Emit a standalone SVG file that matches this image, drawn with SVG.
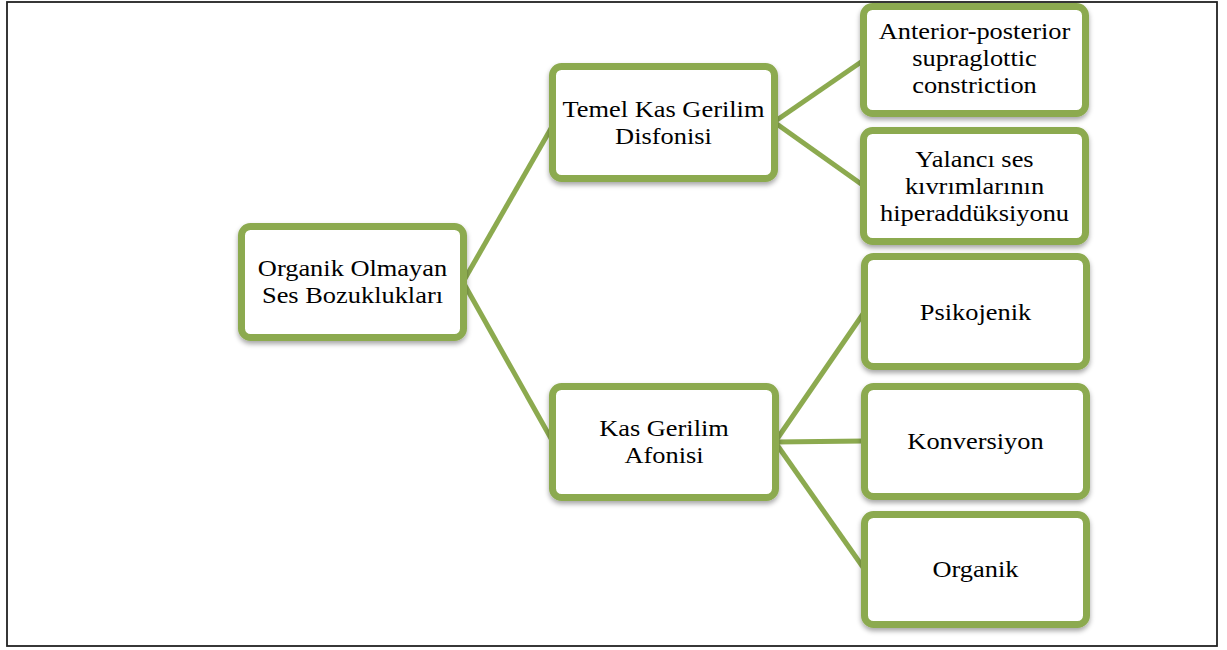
<svg xmlns="http://www.w3.org/2000/svg" width="1227" height="650" viewBox="0 0 1227 650">
<defs>
<style>
.box{fill:#ffffff;stroke:#8CAA4F;stroke-width:7;filter:url(#sh)}
.con{stroke:#8CAA4F;stroke-width:5;fill:none}
.t{font-family:"Liberation Serif","Times New Roman",serif;font-size:24px;fill:#000;text-anchor:middle}
</style>
<filter id="sh" x="-10%" y="-10%" width="120%" height="130%">
<feDropShadow dx="0" dy="3" stdDeviation="2.5" flood-color="#000" flood-opacity="0.35"/>
</filter>
</defs>
<rect x="7" y="2" width="1210" height="644" fill="#fff" stroke="#222" stroke-width="1.8"/>
<g id="connectors">
<line class="con" x1="463" y1="282" x2="553" y2="125"/>
<line class="con" x1="463" y1="282" x2="553" y2="442"/>
<line class="con" x1="774" y1="122" x2="864" y2="60"/>
<line class="con" x1="774" y1="122" x2="864" y2="186"/>
<line class="con" x1="775" y1="442" x2="865" y2="311"/>
<line class="con" x1="775" y1="442" x2="865" y2="441"/>
<line class="con" x1="775" y1="442" x2="865" y2="570"/>
</g>
<g id="root">
<rect class="box" x="241.5" y="226.5" width="222" height="111" rx="9"/>
<text class="t" transform="translate(352.5,276) scale(1.1,1)">Organik Olmayan</text>
<text class="t" transform="translate(352.5,303) scale(1.1,1)">Ses Bozuklukları</text>
</g>
<g id="temel">
<rect class="box" x="552.5" y="66.5" width="222" height="112" rx="9"/>
<text class="t" transform="translate(663.5,116.5) scale(1.1,1)">Temel Kas Gerilim</text>
<text class="t" transform="translate(663.5,143.5) scale(1.1,1)">Disfonisi</text>
</g>
<g id="kas">
<rect class="box" x="552.5" y="386.5" width="223" height="111" rx="9"/>
<text class="t" transform="translate(664,435.5) scale(1.1,1)">Kas Gerilim</text>
<text class="t" transform="translate(664,462.5) scale(1.1,1)">Afonisi</text>
</g>
<g id="anterior">
<rect class="box" x="863.5" y="6.5" width="222" height="107" rx="9"/>
<text class="t" transform="translate(974.5,39) scale(1.1,1)">Anterior-posterior</text>
<text class="t" transform="translate(974.5,66) scale(1.1,1)">supraglottic</text>
<text class="t" transform="translate(974.5,93) scale(1.1,1)">constriction</text>
</g>
<g id="yalanci">
<rect class="box" x="863.5" y="130.5" width="222" height="111" rx="9"/>
<text class="t" transform="translate(974.5,167) scale(1.1,1)">Yalancı ses</text>
<text class="t" transform="translate(974.5,194) scale(1.1,1)">kıvrımlarının</text>
<text class="t" transform="translate(974.5,221) scale(1.1,1)">hiperaddüksiyonu</text>
</g>
<g id="psikojenik">
<rect class="box" x="864.5" y="256.5" width="222" height="110" rx="9"/>
<text class="t" transform="translate(975.5,320) scale(1.1,1)">Psikojenik</text>
</g>
<g id="konversiyon">
<rect class="box" x="864.5" y="386.5" width="222" height="110" rx="9"/>
<text class="t" transform="translate(975.5,449) scale(1.1,1)">Konversiyon</text>
</g>
<g id="organik">
<rect class="box" x="864.5" y="514.5" width="222" height="110" rx="9"/>
<text class="t" transform="translate(975.5,577) scale(1.1,1)">Organik</text>
</g>
</svg>
